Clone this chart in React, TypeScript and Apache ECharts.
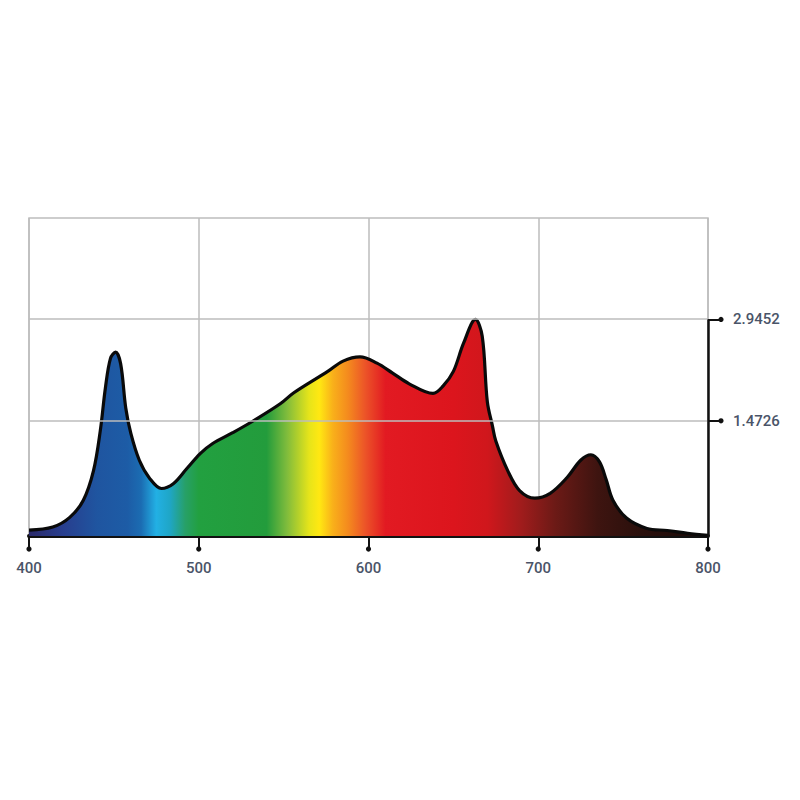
import React, { useEffect, useRef } from 'react';
import * as echarts from 'echarts';

// wavelength (nm) and relative irradiance
const wavelengths = [
  400, 414, 424, 432, 438, 442, 445, 448, 451, 454, 457, 460, 465, 471, 478, 485, 493, 501, 508, 520,
  532, 548, 556, 576, 585, 595, 605, 614, 624, 638, 644, 650, 656, 663, 667, 670, 673, 675, 682, 689,
  698, 707, 717, 725, 731, 736, 740, 744, 752, 764, 776, 788, 800
];
const irradiance = [
  -0.115, -0.07, 0.07, 0.32, 0.75, 1.33, 1.95, 2.38, 2.47, 2.3, 1.66, 1.29, 0.9, 0.64, 0.49, 0.56, 0.78, 1.0, 1.14, 1.3,
  1.47, 1.72, 1.88, 2.19, 2.34, 2.4, 2.31, 2.17, 2.01, 1.87, 1.98, 2.19, 2.6, 2.945, 2.7, 1.75, 1.4, 1.18, 0.75, 0.46,
  0.35, 0.42, 0.65, 0.9, 0.98, 0.88, 0.62, 0.32, 0.06, -0.09, -0.12, -0.16, -0.19
];

const xTicks = [400, 500, 600, 700, 800];
const yTicks = [1.4726, 2.9452];
const yMin = -0.2;
const yMax = 4.4178;

// spectrum colours by wavelength
const spectrumNm = [400, 420, 440, 458, 466, 475, 483, 492, 500, 540, 552, 565, 571, 579, 588, 598, 610, 650, 670, 690, 710, 735, 760, 800];
const spectrumColors = [
  '#2b2a6a', '#283e8e', '#1f55a0', '#1d5ca6', '#1b6cb2', '#22b0e4', '#1fa6c6', '#27a068', '#22a040', '#239c3c',
  '#80bc3c', '#e6e41a', '#ffe812', '#f9b01a', '#f48a1e', '#ec5428', '#e21a22', '#dc151d', '#d0171c', '#a01c1c',
  '#6c1a16', '#3e1410', '#2a100c', '#1a0a08'
];

const labelFont = "Roboto, 'Noto Sans', sans-serif";

export default function App() {
  const chartRef = useRef<HTMLDivElement>(null);

  useEffect(() => {
    const chart = echarts.init(chartRef.current, null, { renderer: 'svg' });

    const stops = spectrumNm.map((nm, i) => ({ offset: (nm - 400) / 400, color: spectrumColors[i] }));

    chart.setOption({
      animation: false,
      grid: {
        left: 21,
        right: 100,
        top: 210,
        bottom: 272,
        show: true,
        borderColor: '#bdbdbd',
        borderWidth: 1.5
      },
      xAxis: {
        type: 'value',
        min: 400,
        max: 800,
        interval: 100,
        axisLine: { onZero: false, lineStyle: { color: '#111', width: 4 } },
        axisTick: { length: 12, lineStyle: { color: '#111', width: 2 } },
        axisLabel: { margin: 24, color: '#4a5468', fontSize: 15, fontWeight: 500, fontFamily: labelFont },
        splitLine: { show: true, lineStyle: { color: '#bdbdbd', width: 1.5 } }
      },
      yAxis: {
        type: 'value',
        position: 'right',
        min: yMin,
        max: yMax,
        axisLine: { show: false },
        axisTick: { show: true, customValues: yTicks, length: 12, lineStyle: { color: '#111', width: 2 } },
        axisLabel: {
          show: true,
          customValues: yTicks,
          margin: 25,
          color: '#4a5468',
          fontSize: 15,
          fontWeight: 500,
          fontFamily: labelFont
        },
        splitLine: { show: false }
      },
      series: [
        {
          type: 'line',
          z: 1,
          data: [],
          silent: true,
          markLine: {
            silent: true,
            symbol: 'none',
            label: { show: false },
            lineStyle: { color: '#bdbdbd', width: 1.5, type: 'solid' },
            data: yTicks.map((v) => ({ yAxis: v }))
          }
        },
        {
          type: 'line',
          z: 3,
          data: wavelengths.map((w, i) => [w, irradiance[i]]),
          smooth: 0.35,
          showSymbol: false,
          lineStyle: { color: '#0a0a0a', width: 3.2 },
          areaStyle: {
            origin: 'start',
            opacity: 1,
            color: new echarts.graphic.LinearGradient(0, 0, 1, 0, stops)
          },
          markLine: {
            silent: true,
            symbol: 'none',
            label: { show: false },
            lineStyle: { color: '#111', width: 2.5, type: 'solid' },
            data: [[{ coord: [800, yMin] }, { coord: [800, yTicks[1]] }]]
          }
        }
      ]
    });

    const dots: any[] = [];
    xTicks.forEach((t) => {
      const p = chart.convertToPixel({ gridIndex: 0 }, [t, yMin]);
      dots.push({ type: 'circle', shape: { cx: p[0], cy: p[1] + 13, r: 2.6 }, style: { fill: '#111' }, silent: true });
    });
    yTicks.forEach((v) => {
      const p = chart.convertToPixel({ gridIndex: 0 }, [800, v]);
      dots.push({ type: 'circle', shape: { cx: p[0] + 13, cy: p[1], r: 2.6 }, style: { fill: '#111' }, silent: true });
    });
    chart.setOption({ graphic: dots });

    return () => {
      chart.dispose();
    };
  }, []);

  return <div ref={chartRef} style={{ width: '800px', height: '800px' }}></div>;
}
